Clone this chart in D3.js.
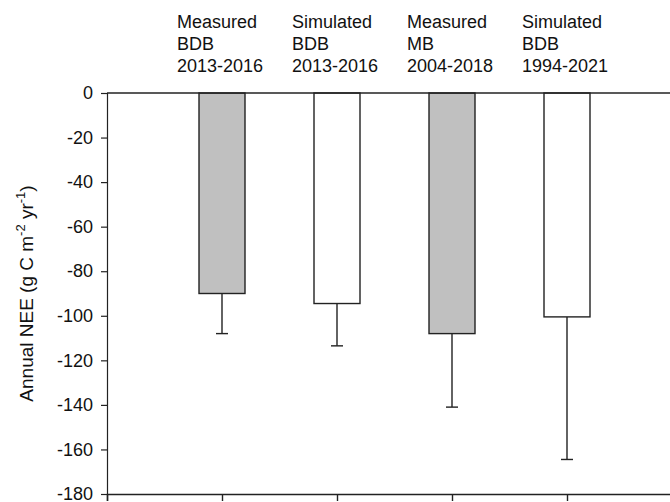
<!DOCTYPE html>
<html>
<head>
<meta charset="utf-8">
<script src="https://cdn.jsdelivr.net/npm/d3@7"></script>
<style>
  body { margin: 0; background: #fff; }
  svg { display: block; font-family: "Liberation Sans", Arial, sans-serif; }
</style>
</head>
<body>
<div id="chart"></div>
<script>
// bar labels (three lines each), means and downward error bars
var labelLines = [
  ["Measured", "BDB", "2013-2016"],
  ["Simulated", "BDB", "2013-2016"],
  ["Measured", "MB", "2004-2018"],
  ["Simulated", "BDB", "1994-2021"]
];
var nee = [-90, -94.5, -108, -100.5];
var neeErr = [18, 19, 33, 64];
var yTicks = [0, -20, -40, -60, -80, -100, -120, -140, -160, -180];

var svgWidth = 670;
var svgHeight = 502;

var svg = d3.select("#chart")
  .append("svg")
  .attr("width", svgWidth)
  .attr("height", svgHeight);

// x runs 0..5, bars sit on 1..4 (right part of the frame is cut off)
var xScale = d3.scaleLinear()
  .domain([0, 5])
  .range([107, 682]);

var yScale = d3.scaleLinear()
  .domain([-180, 0])
  .range([494, 93]);

var barWidth = 46;
var capWidth = 12;

var rows = labelLines.map(function(lines, i) {
  return { lines: lines, value: nee[i], err: neeErr[i], pos: i + 1 };
});

// error bars (drawn first so the bar edge covers the join)
var errs = svg.append("g").selectAll("g").data(rows).enter().append("g")
  .attr("stroke", "#222")
  .attr("stroke-width", 1.4);

errs.append("line")
  .attr("x1", d => xScale(d.pos))
  .attr("x2", d => xScale(d.pos))
  .attr("y1", d => yScale(d.value))
  .attr("y2", d => yScale(d.value - d.err));

errs.append("line")
  .attr("x1", d => xScale(d.pos) - capWidth / 2)
  .attr("x2", d => xScale(d.pos) + capWidth / 2)
  .attr("y1", d => yScale(d.value - d.err))
  .attr("y2", d => yScale(d.value - d.err));

// bars hang down from zero
svg.append("g").selectAll("rect").data(rows).enter().append("rect")
  .attr("x", d => xScale(d.pos) - barWidth / 2)
  .attr("width", barWidth)
  .attr("y", yScale(0))
  .attr("height", d => yScale(d.value) - yScale(0))
  .attr("fill", d => d.lines[0] === "Measured" ? "#c0c0c0" : "#ffffff")
  .attr("stroke", "#222")
  .attr("stroke-width", 1.4);

// left axis
var leftAxis = d3.axisLeft(yScale)
  .tickValues(yTicks)
  .tickSize(6)
  .tickPadding(8)
  .tickFormat(d => String(d));

var gy = svg.append("g")
  .attr("transform", "translate(107,0)")
  .call(leftAxis);
gy.selectAll("text").attr("font-size", 18).attr("fill", "#111")
  .attr("font-family", "Liberation Sans, Arial, sans-serif");
gy.selectAll("line, path").attr("stroke", "#222").attr("stroke-width", 1.2);

// bottom axis, ticks only
var bottomAxis = d3.axisBottom(xScale)
  .tickValues([0, 1, 2, 3, 4, 5])
  .tickSize(7)
  .tickFormat("");

var gx = svg.append("g")
  .attr("transform", `translate(0, ${yScale(-180)})`)
  .call(bottomAxis);
gx.selectAll("line, path").attr("stroke", "#222").attr("stroke-width", 1.4);

// zero line across the top
svg.append("line")
  .attr("x1", xScale(0))
  .attr("x2", xScale(5))
  .attr("y1", yScale(0))
  .attr("y2", yScale(0))
  .attr("stroke", "#222")
  .attr("stroke-width", 1.4);

// three-line labels above each bar
var heads = svg.append("g").selectAll("text").data(rows).enter().append("text")
  .attr("x", d => xScale(d.pos) - 45)
  .attr("y", 28)
  .attr("font-size", 18)
  .attr("fill", "#111");

heads.selectAll("tspan").data(d => d.lines).enter().append("tspan")
  .attr("x", function() { return d3.select(this.parentNode).attr("x"); })
  .attr("dy", (d, i) => i === 0 ? 0 : 22)
  .text(d => d);

// y axis title with superscripts
var title = svg.append("text")
  .attr("transform", `translate(33, ${(yScale(0) + yScale(-180)) / 2}) rotate(-90)`)
  .attr("text-anchor", "middle")
  .attr("font-size", 19)
  .attr("fill", "#111");

title.append("tspan").text("Annual NEE (g C m");
title.append("tspan").attr("dy", -8).attr("font-size", 13).text("-2");
title.append("tspan").attr("dy", 8).text(" yr");
title.append("tspan").attr("dy", -8).attr("font-size", 13).text("-1");
title.append("tspan").attr("dy", 8).text(")");
</script>
</body>
</html>
